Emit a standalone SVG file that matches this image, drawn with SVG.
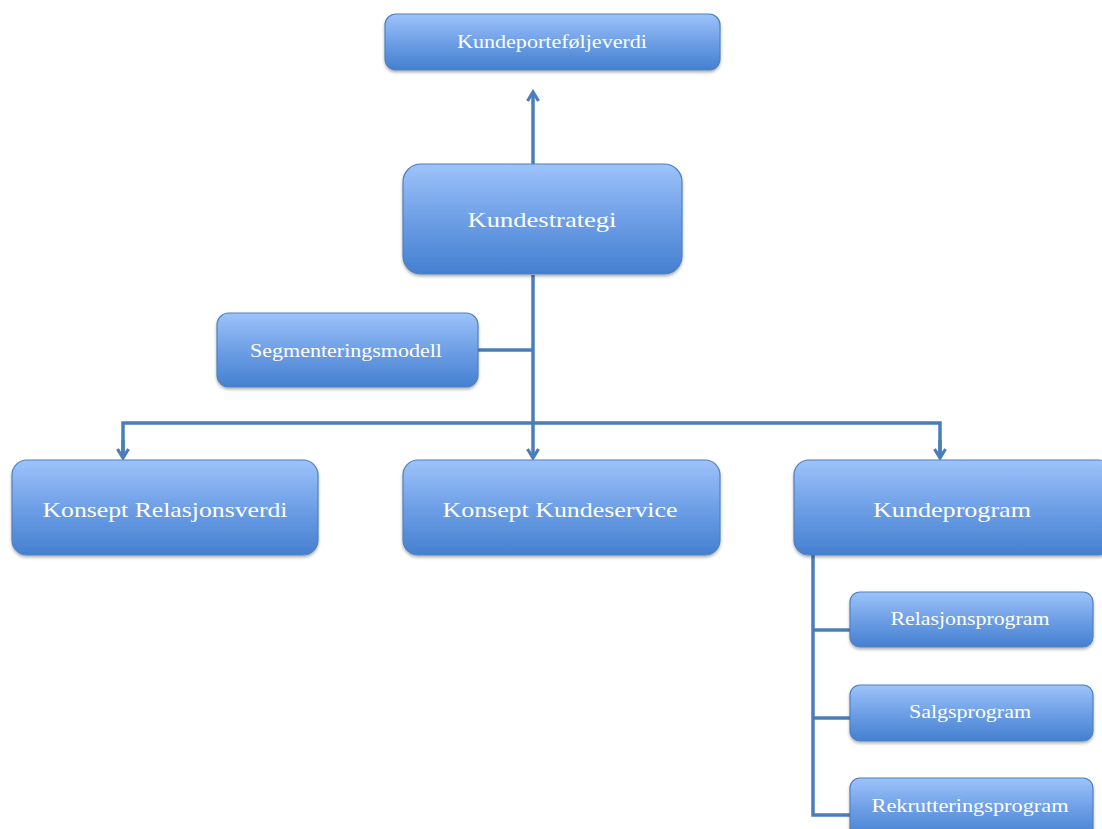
<svg xmlns="http://www.w3.org/2000/svg" width="1102" height="829" viewBox="0 0 1102 829">
<defs>
<linearGradient id="g" x1="0" y1="0" x2="0" y2="1">
<stop offset="0" stop-color="#9dc3fa"/>
<stop offset="0.5" stop-color="#6e9fe6"/>
<stop offset="1" stop-color="#4480d0"/>
</linearGradient>
<filter id="sh" x="-5%" y="-10%" width="110%" height="130%">
<feDropShadow dx="0" dy="2" stdDeviation="1.5" flood-color="#000" flood-opacity="0.3"/>
</filter>
<marker id="ah" viewBox="0 0 14 14" refX="11" refY="7" markerWidth="14" markerHeight="14" markerUnits="userSpaceOnUse" orient="auto">
<path d="M2,1.5 L11,7 L2,12.5" fill="none" stroke="#4a7ebb" stroke-width="3.2" stroke-linejoin="miter"/>
</marker>
<style>
.box{fill:url(#g);stroke:#4f81bd;stroke-width:1.2;filter:url(#sh)}
.t{fill:#ffffff;font-family:"Liberation Serif","DejaVu Serif",serif;text-anchor:middle}
.big{font-size:22px}
.sm{font-size:18px}
.c{fill:none;stroke:#4a7ebb;stroke-width:3.5}
</style>
</defs>
<rect width="1102" height="829" fill="#ffffff"/>
<g id="connectors">
<line class="c" x1="533" y1="164" x2="533" y2="92" marker-end="url(#ah)"/>
<line class="c" x1="533" y1="275" x2="533" y2="458" marker-end="url(#ah)"/>
<line class="c" x1="478" y1="350" x2="533" y2="350"/>
<polyline class="c" points="123,458 123,423 940,423 940,458"/>
<line class="c" x1="123" y1="440" x2="123" y2="458" marker-end="url(#ah)"/>
<line class="c" x1="940" y1="440" x2="940" y2="458" marker-end="url(#ah)"/>
<polyline class="c" points="813,555 813,815 850,815"/>
<line class="c" x1="813" y1="630" x2="850" y2="630"/>
<line class="c" x1="813" y1="718" x2="850" y2="718"/>
</g>
<g id="n-kundeportefoljeverdi">
<rect class="box" x="385" y="14" width="335" height="56" rx="11"/>
<text class="t sm" x="552" y="48" textLength="190" lengthAdjust="spacingAndGlyphs">Kundeporteføljeverdi</text>
</g>
<g id="n-kundestrategi">
<rect class="box" x="403" y="164" width="279" height="110" rx="18"/>
<text class="t big" x="542" y="227" textLength="149" lengthAdjust="spacingAndGlyphs">Kundestrategi</text>
</g>
<g id="n-segmenteringsmodell">
<rect class="box" x="217" y="313" width="261" height="74" rx="12"/>
<text class="t sm" x="346" y="357" textLength="192" lengthAdjust="spacingAndGlyphs">Segmenteringsmodell</text>
</g>
<g id="n-konsept-relasjonsverdi">
<rect class="box" x="12" y="460" width="306" height="95" rx="15"/>
<text class="t big" x="165" y="517" textLength="245" lengthAdjust="spacingAndGlyphs">Konsept Relasjonsverdi</text>
</g>
<g id="n-konsept-kundeservice">
<rect class="box" x="403" y="460" width="317" height="95" rx="15"/>
<text class="t big" x="560" y="517" textLength="235" lengthAdjust="spacingAndGlyphs">Konsept Kundeservice</text>
</g>
<g id="n-kundeprogram">
<rect class="box" x="794" y="460" width="320" height="95" rx="15"/>
<text class="t big" x="952" y="517" textLength="158" lengthAdjust="spacingAndGlyphs">Kundeprogram</text>
</g>
<g id="n-relasjonsprogram">
<rect class="box" x="850" y="592" width="243" height="55" rx="10"/>
<text class="t sm" x="970" y="625" textLength="159" lengthAdjust="spacingAndGlyphs">Relasjonsprogram</text>
</g>
<g id="n-salgsprogram">
<rect class="box" x="850" y="685" width="243" height="56" rx="10"/>
<text class="t sm" x="970" y="718" textLength="122" lengthAdjust="spacingAndGlyphs">Salgsprogram</text>
</g>
<g id="n-rekrutteringsprogram">
<rect class="box" x="850" y="778" width="243" height="60" rx="10"/>
<text class="t sm" x="970" y="812" textLength="197" lengthAdjust="spacingAndGlyphs">Rekrutteringsprogram</text>
</g>
</svg>
